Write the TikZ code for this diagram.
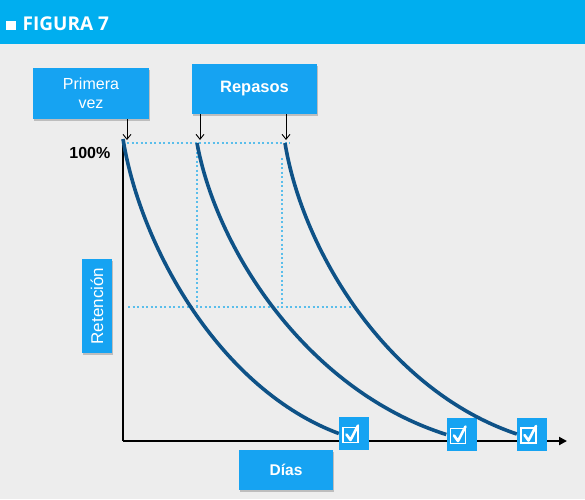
\documentclass[tikz,border=0pt]{standalone}
\usepackage{fontspec}
\setmainfont{Liberation Sans}
\newfontfamily\headfont{Open Sans}
\usetikzlibrary{arrows.meta,shadows}
\definecolor{banner}{RGB}{0,174,239}
\definecolor{boxblue}{RGB}{22,163,242}
\definecolor{curveblue}{RGB}{14,82,135}
\definecolor{dotblue}{RGB}{90,190,235}
\definecolor{bg}{RGB}{237,237,237}
\tikzset{
  labelbox/.style={fill=boxblue, text=white, inner sep=0pt, align=center,
    font=\fontsize{16}{19}\selectfont,
    drop shadow={opacity=0.35, shadow xshift=1.2pt, shadow yshift=-1.5pt, fill=black!60}},
  checkbox/.style={fill=boxblue, inner sep=0pt, minimum width=30pt, minimum height=33pt},
  curve/.style={draw=curveblue, line width=3.6pt},
  guide/.style={draw=dotblue, line width=2.2pt, dash pattern=on 2pt off 2.5pt},
  pointer/.style={draw=black, line width=0.9pt, -{Straight Barb[length=5pt,width=8pt]}},
  axis/.style={draw=black, line width=2pt},
}
\newcommand{\tick}[1]{%
  \draw[white, line width=1.3pt] ([xshift=-11pt,yshift=-9pt]#1.center) rectangle ([xshift=4pt,yshift=6pt]#1.center);
  \draw[white, line width=2.6pt, line cap=round, line join=round]
    ([xshift=-7.5pt,yshift=-1pt]#1.center) -- ([xshift=-3.5pt,yshift=-6.5pt]#1.center) -- ([xshift=4pt,yshift=8pt]#1.center);
}
\begin{document}
\begin{tikzpicture}[x=1pt,y=-1pt]
\useasboundingbox (0,0) rectangle (585,499);
\fill[bg] (0,0) rectangle (585,499);
\fill[banner] (0,0) rectangle (585,44);
\node[anchor=west, text=white, font=\headfont\bfseries\fontsize{19}{22}\selectfont, inner sep=0pt] (title) at (6,23.5) {\rule{9.5pt}{9.5pt}\hspace{7pt}FIGURA 7};

% boxes
\node[labelbox, minimum width=116pt, minimum height=51pt] (prim) at (91,93.5) {Primera\\vez};
\node[labelbox, minimum width=125pt, minimum height=50pt, font=\bfseries\fontsize{16.5}{19}\selectfont] (rep) at (254.5,89) {Repasos};
\node[labelbox, rotate=90, minimum width=94pt, minimum height=30pt, font=\fontsize{17}{19}\selectfont] (ret) at (97,306) {Retención};
\node[labelbox, minimum width=94pt, minimum height=40pt, font=\bfseries\fontsize{15.5}{18}\selectfont] (dias) at (286,470) {Días};
\node[anchor=east, font=\bfseries\fontsize{16}{18}\selectfont, inner sep=0pt] (pct) at (110.5,153) {100\%};

% coordinates
\coordinate (o) at (123,441);
\coordinate (ytop) at (123,139);
\coordinate (xend) at (567,441);
\coordinate (s1) at (123,139);
\coordinate (s2) at (197,143);
\coordinate (s3) at (285,143);
\coordinate (a1) at (127,140);
\coordinate (a2) at (200,140);
\coordinate (a3) at (286,140);

% guides
\draw[guide] (127,143) -- (290,143);
\draw[guide] (197,147) -- (197,305);
\draw[guide] (282,158) -- (282,305);
\draw[guide] (128,307) -- (351,307);

% axes
\draw[axis, -{Triangle[length=8pt,width=8pt]}] (o) -- (xend);
\draw[axis] (o) -- (ytop);

% checkboxes
\node[checkbox] (c1) at (354,433.5) {};
\node[checkbox] (c2) at (461.5,434.5) {};
\node[checkbox] (c3) at (532,434) {};

% curves
\draw[curve] (s1) .. controls (141,250) and (222,390) .. (c1.west);
\draw[curve] (s2) .. controls (217,252) and (309,391) .. (c2.west);
\draw[curve] (s3) .. controls (303,253) and (389,391) .. (c3.west);

\tick{c1}
\tick{c2}
\tick{c3}

% pointers
\draw[pointer] (prim.south -| a1) -- (a1);
\draw[pointer] (rep.south -| a2) -- (a2);
\draw[pointer] (rep.south -| a3) -- (a3);
\end{tikzpicture}
\end{document}
